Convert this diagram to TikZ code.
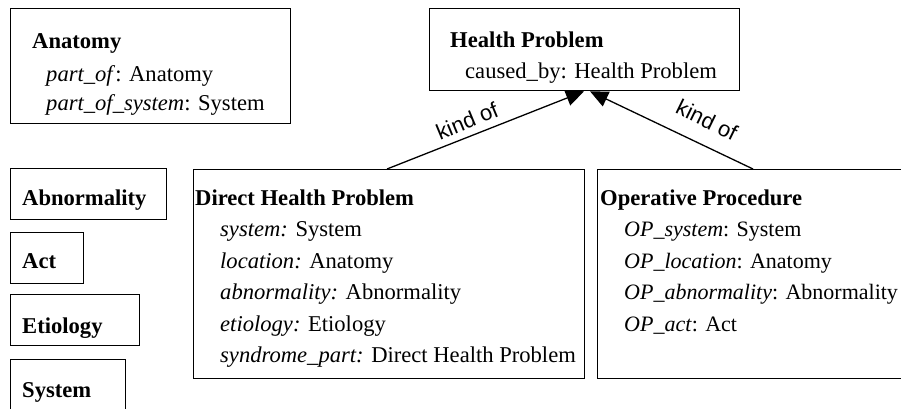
\documentclass[tikz,border=0pt]{standalone}
\usepackage{fontspec}
\setmainfont{Liberation Serif}
\newfontfamily\labelfont{Liberation Sans}
\usetikzlibrary{arrows.meta}
\begin{document}
\begin{tikzpicture}[x=1pt,y=-1pt,
  cls/.style={draw, line width=1.3pt, anchor=north west, inner sep=0pt},
  txt/.style={anchor=base west, inner sep=0pt, font=\fontsize{22.6}{27}\selectfont},
  optxt/.style={anchor=base west, inner sep=0pt, font=\fontsize{22}{27}\selectfont},
  ttl/.style={anchor=base west, inner sep=0pt, font=\fontsize{22.6}{27}\selectfont\bfseries},
  isa/.style={line width=1.3pt, -{Triangle[length=18pt,width=16pt]}},
  lbl/.style={font=\labelfont\fontsize{22}{26}\selectfont, inner sep=0pt}]
\useasboundingbox (0,0) rectangle (901,408);
\clip (0,0) rectangle (901,408);
% boxes
\node[cls, minimum width=280pt, minimum height=115pt] (anat) at (10,8) {};
\node[cls, minimum width=310pt, minimum height=82pt] (hp) at (429,8) {};
\node[cls, minimum width=391pt, minimum height=209pt] (dhp) at (193,169) {};
\node[cls, minimum width=330pt, minimum height=209pt] (op) at (597,169) {};
\node[cls, minimum width=156pt, minimum height=51pt] (abn) at (10,168) {};
\node[cls, minimum width=73pt, minimum height=51pt] (act) at (10,232) {};
\node[cls, minimum width=129pt, minimum height=51pt] (eti) at (10,294) {};
\node[cls, minimum width=115pt, minimum height=70pt] (sys) at (10,359) {};
% Anatomy
\node[ttl] (anatT) at (32,48) {Anatomy};
\node[txt] (anat1) at (46,81) {\textit{part\_of}: Anatomy};
\node[txt] (anat2) at (46,110) {\textit{part\_of\_system}: System};
% Health Problem
\node[ttl] (hpT) at (450,47) {Health Problem};
\node[txt] (hp1) at (465,78) {caused\_by: Health Problem};
% Direct Health Problem
\node[ttl] (dhpT) at (195,205) {Direct Health Problem};
\node[txt] (dhp1) at (220,236.5) {\textit{system:} System};
\node[txt] (dhp2) at (220,268) {\textit{location:} Anatomy};
\node[txt] (dhp3) at (220,299.5) {\textit{abnormality:} Abnormality};
\node[txt] (dhp4) at (220,331) {\textit{etiology:} Etiology};
\node[txt] (dhp5) at (220,362.5) {\textit{syndrome\_part:} Direct Health Problem};
% Operative Procedure
\node[ttl] (opT) at (600,205) {Operative Procedure};
\node[optxt] (op1) at (624,236.5) {\textit{OP\_system}: System};
\node[optxt] (op2) at (624,268) {\textit{OP\_location}: Anatomy};
\node[optxt] (op3) at (624,299.5) {\textit{OP\_abnormality}: Abnormality};
\node[optxt] (op4) at (624,331) {\textit{OP\_act}: Act};
% small classes
\node[ttl] (abnT) at (22,205) {Abnormality};
\node[ttl] (actT) at (22,268) {Act};
\node[ttl] (etiT) at (22,333) {Etiology};
\node[ttl] (sysT) at (22,397) {System};
% connectors
\draw[isa] ([xshift=194pt]dhp.north west) -- ([xshift=155pt]hp.south west);
\draw[isa] ([xshift=156pt]op.north west) -- ([xshift=161pt]hp.south west);
\node[lbl, rotate=22.5] (k1) at (467,121) {kind of};
\node[lbl, rotate=-26] (k2) at (707,120) {kind of};
\end{tikzpicture}
\end{document}
